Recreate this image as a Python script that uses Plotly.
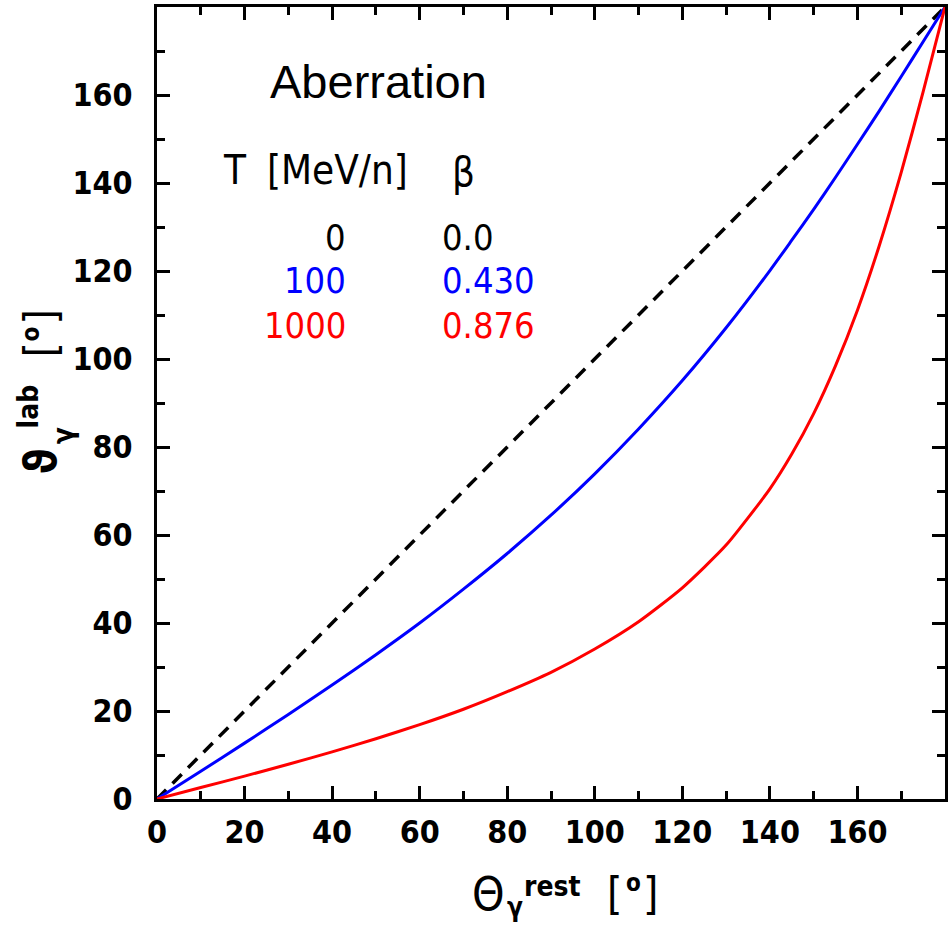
import plotly.graph_objects as go

# Photon emission angle in the rest frame [deg]
theta_rest = [0, 10, 20, 30, 40, 50, 60, 70, 80, 90, 100, 110, 120, 130, 140,
              145, 150, 155, 160, 165, 170, 175, 180]

# Lab-frame angle for beta = 0.430 (T = 100 MeV/n)
theta_lab_100 = [0, 6.3, 12.7, 19.2, 25.9, 32.8, 40.0, 47.7, 55.8, 64.5, 73.9,
                 84.1, 95.1, 107.1, 120.1, 127.0, 134.0, 141.3, 148.8, 156.4,
                 164.2, 172.1, 180]

# Lab-frame angle for beta = 0.876 (T = 1000 MeV/n)
theta_lab_1000 = [0, 2.6, 5.2, 7.9, 10.7, 13.7, 16.9, 20.4, 24.4, 28.8, 34.1,
                  40.3, 48.0, 57.7, 70.5, 78.4, 87.6, 98.5, 111.1, 125.8,
                  142.4, 160.7, 180]

# beta = 0 : no aberration
theta_lab_0_x = [0, 180]
theta_lab_0_y = [0, 180]

table_T = ["0", "100", "1000"]
table_beta = ["0.0", "0.430", "0.876"]
table_colors = ["#000000", "#0000ff", "#ff0000"]

major_ticks = [0, 20, 40, 60, 80, 100, 120, 140, 160]

W, H = 950, 927
L, R, T, B = 157, 2, 7, 128
PW = W - L - R
PH = H - T - B

NARROW = "Liberation Sans Narrow, DejaVu Sans Condensed, Liberation Sans, sans-serif"
SANS = "Liberation Sans, Arial, sans-serif"


def pos(xp, yp):
    """pixel position -> paper coordinates"""
    return (xp - L) / PW, (H - B - yp) / PH


fig = go.Figure()

fig.add_trace(go.Scatter(
    x=theta_lab_0_x, y=theta_lab_0_y, mode="lines",
    line=dict(color="black", width=3.5, dash="13px,9px"),
    hoverinfo="skip"))
fig.add_trace(go.Scatter(
    x=theta_rest, y=theta_lab_100, mode="lines",
    line=dict(color="#0000ff", width=3, shape="spline", smoothing=0.6)))
fig.add_trace(go.Scatter(
    x=theta_rest, y=theta_lab_1000, mode="lines",
    line=dict(color="#ff0000", width=3, shape="spline", smoothing=0.6)))

annotations = []


def txt(text, xp, yp, size, color="black", family=NARROW, xanchor="left",
        yanchor="middle", angle=0, bold=False):
    x, y = pos(xp, yp)
    annotations.append(dict(
        text=text, x=x, y=y, xref="paper", yref="paper", showarrow=False,
        xanchor=xanchor, yanchor=yanchor, textangle=angle,
        font=dict(family=family, size=size, color=color,
                  weight="bold" if bold else "normal")))


# Title and table inside the frame
txt("Aberration", 268, 81, 47, family=SANS)
txt("T", 221, 170, 40)
txt("[MeV/n]", 265, 170, 40)
txt("\u03b2", 451, 172, 40)
rows_y = [237, 281, 325]
for label_t, label_b, c, yp in zip(table_T, table_beta, table_colors, rows_y):
    txt(label_t, 349, yp, 36, color=c, xanchor="right")
    txt(label_b, 441, yp, 36, color=c)

# x-axis title
txt("\u0398", 471, 894, 46)
txt("\u03b3", 506, 907, 26, bold=True)
txt("rest", 523, 886, 28, bold=True)
txt("[", 607, 893, 44)
txt("o", 626, 883, 24, bold=True)
txt("]", 643, 893, 44)

# y-axis title (rotated)
txt("\u03d1", 40, 461, 44, xanchor="center", angle=-90, bold=True)
txt("\u03b3", 63, 436, 28, xanchor="center", angle=-90, bold=True)
txt("lab", 28, 406, 28, xanchor="center", angle=-90, bold=True)
txt("[", 40, 350, 44, xanchor="center", angle=-90)
txt("o", 31, 334, 24, xanchor="center", angle=-90, bold=True)
txt("]", 40, 317, 44, xanchor="center", angle=-90)

axis_common = dict(
    range=[0, 180], tickvals=major_ticks, ticktext=[str(v) for v in major_ticks],
    ticks="inside", ticklen=13, tickwidth=3, tickcolor="black",
    showline=True, linewidth=3, linecolor="black", mirror="ticks",
    showgrid=False, zeroline=False,
    tickfont=dict(family=NARROW, size=32, color="black", weight="bold"),
    minor=dict(tickvals=[10, 30, 50, 70, 90, 110, 130, 150, 170],
               ticks="inside", ticklen=8, tickwidth=3, tickcolor="black"),
)

fig.update_xaxes(**axis_common, ticklabelstandoff=3)
fig.update_yaxes(**axis_common, ticklabelstandoff=15)

fig.update_layout(
    width=W, height=H,
    margin=dict(l=L, r=R, t=T, b=B, pad=0),
    paper_bgcolor="white", plot_bgcolor="white",
    showlegend=False,
    annotations=annotations,
)

fig.write_html("out.html")
